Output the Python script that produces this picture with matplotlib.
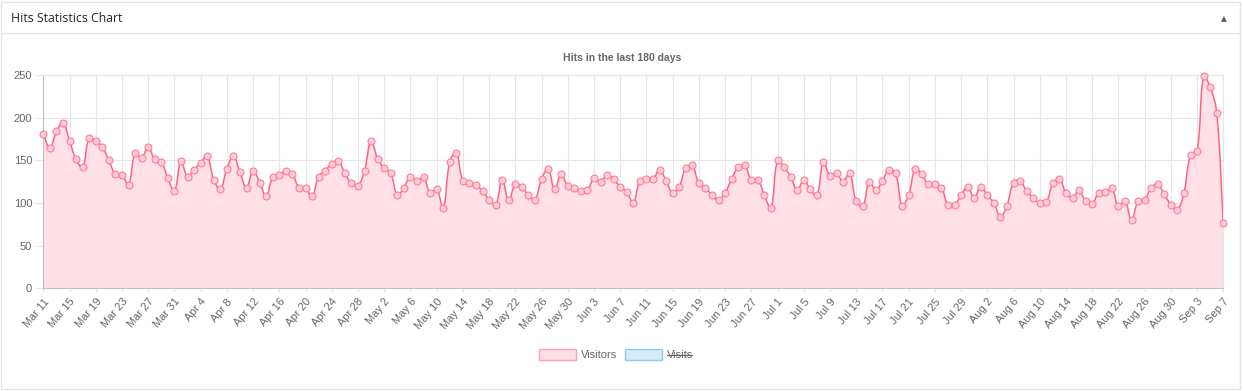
import matplotlib
matplotlib.use("Agg")
import matplotlib.pyplot as plt
import numpy as np
import pandas as pd
from matplotlib.path import Path
from matplotlib.patches import PathPatch, Rectangle
from matplotlib.lines import Line2D

# daily visitors, Mar 11 -> Sep 7 (181 days)
start_date = "2019-03-11"
visitors = [
    181, 164, 184, 194, 173, 151, 142, 176, 173, 166, 150, 134, 133, 121, 158, 153,
    166, 151, 148, 129, 114, 149, 131, 139, 147, 155, 127, 116, 140, 155, 136, 118,
    138, 124, 108, 130, 133, 138, 134, 118, 117, 108, 131, 138, 146, 149, 135, 123,
    120, 138, 173, 152, 141, 135, 109, 118, 131, 126, 130, 112, 116, 94, 148, 159,
    126, 124, 121, 114, 104, 98, 127, 103, 122, 119, 109, 104, 128, 140, 116, 134,
    120, 117, 114, 115, 129, 125, 133, 128, 119, 113, 100, 126, 128, 128, 139, 126,
    112, 119, 141, 144, 123, 118, 109, 103, 112, 128, 142, 144, 127, 127, 109, 94,
    150, 142, 131, 115, 127, 116, 109, 148, 132, 135, 125, 135, 102, 96, 125, 115,
    126, 139, 135, 97, 109, 140, 134, 122, 122, 118, 98, 98, 109, 119, 106, 119,
    109, 100, 84, 97, 124, 126, 114, 106, 100, 101, 123, 128, 112, 106, 115, 102,
    99, 112, 113, 117, 96, 102, 80, 102, 104, 118, 122, 110, 98, 92, 112, 156,
    161, 249, 236, 205, 76,
]
y_ticks = [0, 50, 100, 150, 200, 250]
legend_labels = ["Visitors", "Visits"]

dates = pd.date_range(start_date, periods=len(visitors), freq="D")
labels = [f"{d:%b} {d.day}" for d in dates]
x = np.arange(len(visitors), dtype=float)
y = np.array(visitors, dtype=float)

W, H = 1243, 391
fig = plt.figure(figsize=(W / 100, H / 100), dpi=100, facecolor="white")


def fx(px):
    return px / W


def fy(py):
    return 1 - py / H


# panel frame + header
fig.patches.append(Rectangle((fx(1), fy(389)), fx(1239), 387 / H, transform=fig.transFigure,
                             fill=False, ec="#e2e4e7", lw=1))
fig.lines.append(Line2D([fx(1), fx(1240)], [fy(33), fy(33)], transform=fig.transFigure,
                        color="#e2e4e7", lw=1))
fig.text(fx(11), fy(18), "Hits Statistics Chart", fontsize=8.8, color="#23282d",
         family=["Open Sans", "DejaVu Sans"], va="center", ha="left")
fig.text(fx(1224), fy(19), "▲", fontsize=5.5, color="#555d66", va="center", ha="center",
         family="DejaVu Sans")

# chart title
fig.text(fx(622), fy(58), "Hits in the last 180 days", fontsize=7.5, fontweight="bold",
         color="#666666", family="Liberation Sans", ha="center", va="center")

left, right, top, bottom = 43.3, 1223.3, 75, 288.3
ax = fig.add_axes([fx(left), fy(bottom), fx(right - left), (bottom - top) / H])
ax.set_xlim(0, len(visitors) - 1)
ax.set_ylim(0, 250)

# Chart.js-like bezier smoothing (tension 0.4), computed in pixel space
sx = (right - left) / (len(visitors) - 1)
sy = (bottom - top) / 250.0
px, py = x * sx, y * sy
n = len(px)
cp_prev = np.zeros((n, 2))
cp_next = np.zeros((n, 2))
t = 0.4
for i in range(n):
    a = i - 1 if i > 0 else i
    c = i + 1 if i < n - 1 else i
    d01 = np.hypot(px[i] - px[a], py[i] - py[a])
    d12 = np.hypot(px[c] - px[i], py[c] - py[i])
    tot = d01 + d12
    s01 = d01 / tot if tot else 0
    s12 = d12 / tot if tot else 0
    fa, fb = t * s01, t * s12
    cp_prev[i] = (px[i] - fa * (px[c] - px[a]), py[i] - fa * (py[c] - py[a]))
    cp_next[i] = (px[i] + fb * (px[c] - px[a]), py[i] + fb * (py[c] - py[a]))
cp_prev[:, 0] /= sx
cp_next[:, 0] /= sx
cp_prev[:, 1] = np.clip(cp_prev[:, 1] / sy, 0, 250)
cp_next[:, 1] = np.clip(cp_next[:, 1] / sy, 0, 250)

verts = [(x[0], y[0])]
codes = [Path.MOVETO]
for i in range(1, n):
    verts += [tuple(cp_next[i - 1]), tuple(cp_prev[i]), (x[i], y[i])]
    codes += [Path.CURVE4] * 3

line_color = "#ff6384"
fill_verts = verts + [(x[-1], 0), (x[0], 0), (x[0], y[0])]
fill_codes = codes + [Path.LINETO, Path.LINETO, Path.CLOSEPOLY]
ax.add_patch(PathPatch(Path(fill_verts, fill_codes), fc="#ffe0e6", ec="none", zorder=1))
ax.add_patch(PathPatch(Path(verts, codes), fc="none", ec=line_color, lw=1.1, zorder=3))
ax.plot(x, y, ls="none", marker="o", ms=5.0, mfc="#ffccd7", mec="#ff7d98", mew=0.8,
        zorder=4, clip_on=False)

grid_c = "#e6e6e6"
ax.set_yticks(y_ticks)
ax.set_xticks(x[::4])
ax.set_xticklabels(labels[::4], rotation=50, ha="right", va="top", rotation_mode="anchor")
ax.grid(True, color=grid_c, lw=0.8, zorder=0)
ax.set_axisbelow(True)
ax.tick_params(axis="y", length=6, width=0.8, color=grid_c, pad=2, labelsize=8,
               labelcolor="#666666")
ax.tick_params(axis="x", length=3, width=0.8, color=grid_c, pad=3, labelsize=8,
               labelcolor="#666666")
for lab in ax.get_xticklabels() + ax.get_yticklabels():
    lab.set_family("Liberation Sans")
for s in ["left", "bottom"]:
    ax.spines[s].set_color("#bfbfbf")
    ax.spines[s].set_linewidth(0.8)
for s in ["top", "right"]:
    ax.spines[s].set_color(grid_c)
    ax.spines[s].set_linewidth(0.8)

# legend (second dataset hidden -> struck through)
fig.patches.append(Rectangle((fx(539), fy(360)), fx(37), 11 / H, transform=fig.transFigure,
                             fc="#ffe0e6", ec="#ff9fb3", lw=1))
fig.text(fx(581), fy(354.5), legend_labels[0], fontsize=8, color="#666666",
         family="Liberation Sans", va="center", ha="left")
fig.patches.append(Rectangle((fx(625), fy(360)), fx(37), 11 / H, transform=fig.transFigure,
                             fc="#d7ecfb", ec="#8ec8f0", lw=1))
fig.text(fx(667), fy(354.5), legend_labels[1], fontsize=8, color="#666666",
         family="Liberation Sans", va="center", ha="left")
fig.lines.append(Line2D([fx(667), fx(692)], [fy(354.5), fy(354.5)], transform=fig.transFigure,
                        color="#666666", lw=0.8))

fig.savefig("out.png", dpi=100, facecolor="white")
